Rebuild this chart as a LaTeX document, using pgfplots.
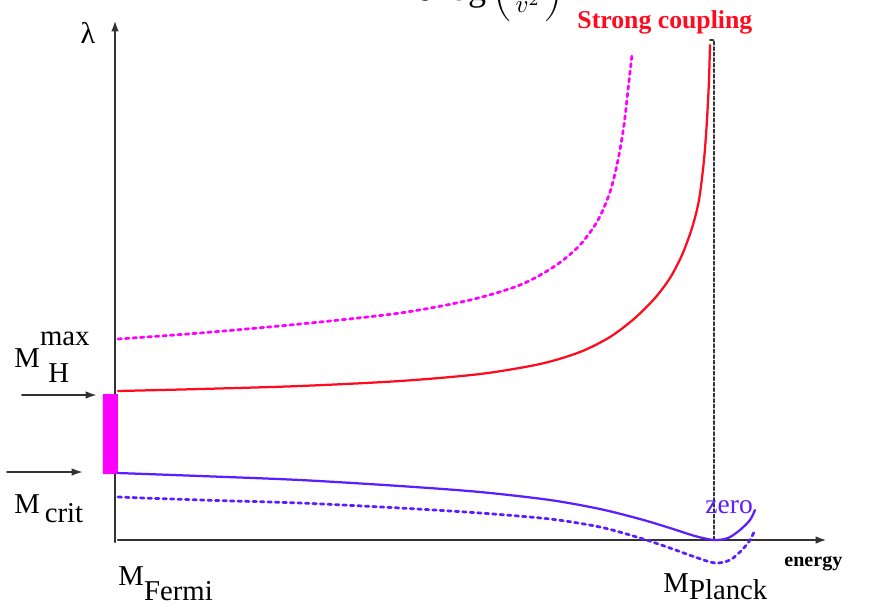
\documentclass[border=0pt]{standalone}
\usepackage{pgfplots}
\pgfplotsset{compat=1.18}
\usepackage{fontspec}
\setmainfont{Liberation Serif}
\usetikzlibrary{arrows.meta}
\definecolor{myred}{RGB}{255,10,30}
\definecolor{mymag}{RGB}{255,0,255}
\definecolor{myblue}{RGB}{90,30,255}
\definecolor{axgray}{RGB}{50,50,50}
\begin{document}
\begin{tikzpicture}
\useasboundingbox (0,0) rectangle (351.2pt,241.6pt);
\clip (0,0) rectangle (351.2pt,241.6pt);
\begin{axis}[at={(0,0)},anchor=south west,
  width=351.2pt,height=241.6pt,scale only axis,
  xmin=0,xmax=878,ymin=0,ymax=604,y dir=reverse,
  axis lines=none,clip=false,
  every axis plot/.append style={line cap=round}]
% axes
\addplot[axgray,line width=0.9pt,-{Latex[length=4.5pt,width=3pt]}] coordinates {(115,542) (115,20)};
\addplot[axgray,line width=0.9pt,-{Latex[length=4.5pt,width=3pt]}] coordinates {(118,540) (827,540)};
% left arrows
\addplot[axgray,line width=0.75pt,-{Latex[length=4.5pt,width=3pt]}] coordinates {(22,395) (97,395)};
\addplot[axgray,line width=0.75pt,-{Latex[length=4.5pt,width=3pt]}] coordinates {(7,472) (83,472)};
% magenta bar
\addplot[fill=mymag,draw=none] coordinates {(103,394) (118,394) (118,474) (103,474) (103,394)};
% dashed vertical
\addplot[black!80,line width=0.75pt,dash pattern=on 1.3pt off 0.9pt] coordinates {(710,40) (714,40) (714,540)};
% red solid
\addplot[myred,line width=0.9pt,smooth] coordinates {(118,391) (200,389) (300,386) (400,381) (480,374) (540,364) (580,352) (610,337) (635,318) (655,298) (670,278) (682,255) (692,228) (699,200) (704,160) (707,120) (709,80) (710,45)};
% magenta dotted
\addplot[mymag,line width=1.1pt,smooth,dash pattern=on 1.4pt off 1.6pt] coordinates {(118,339) (200,333) (300,324) (400,313) (470,300) (520,285) (555,266) (580,245) (598,220) (610,192) (618,160) (624,125) (628,90) (632,55)};
% blue solid
\addplot[myblue,line width=0.9pt,smooth] coordinates {(118,473) (200,476) (300,480) (400,486) (480,492) (550,500) (600,509) (640,519) (670,528) (695,536) (714,540) (728,538) (740,530) (750,520) (755,510)};
% blue dotted
\addplot[myblue,line width=1.1pt,smooth,dash pattern=on 1.4pt off 1.6pt] coordinates {(118,497) (200,500) (300,503) (400,508) (480,513) (550,519) (600,527) (640,538) (670,548) (695,557) (715,563) (730,560) (742,550) (750,540) (755,530)};
% texts
\node[anchor=base west,inner sep=0,text=myred,font=\fontsize{10.3}{12}\selectfont\bfseries] at (axis cs:577,28) {Strong coupling};
\node[anchor=base west,inner sep=0,text=myblue,font=\fontsize{11}{12}\selectfont] at (axis cs:705,513) {zero};
\node[anchor=base west,inner sep=0,font=\fontsize{8}{9}\selectfont\bfseries] at (axis cs:784,566) {energy};
\node[anchor=base west,inner sep=0,font=\fontsize{12}{13}\selectfont] at (axis cs:80,43) {λ};
\node[anchor=base west,inner sep=0,font=\fontsize{11.5}{13}\selectfont] at (axis cs:14,367) {M\raisebox{8.8pt}{max}\hspace{-16.5pt}\raisebox{-6pt}{H}};
\node[anchor=base west,inner sep=0,font=\fontsize{11.5}{13}\selectfont] at (axis cs:14,513) {M\,\raisebox{-3.6pt}{crit}};
\node[anchor=base west,inner sep=0,font=\fontsize{11.5}{13}\selectfont] at (axis cs:118,585) {M\raisebox{-6pt}{Fermi}};
\node[anchor=base west,inner sep=0,font=\fontsize{11.5}{13}\selectfont] at (axis cs:663,592) {M\raisebox{-3pt}{Planck}};
\node[anchor=base west,inner sep=0,font=\Large] at (axis cs:416,0) {$3\log\left(\frac{\Lambda^2}{v^2}\right)$};
\end{axis}
\end{tikzpicture}
\end{document}
